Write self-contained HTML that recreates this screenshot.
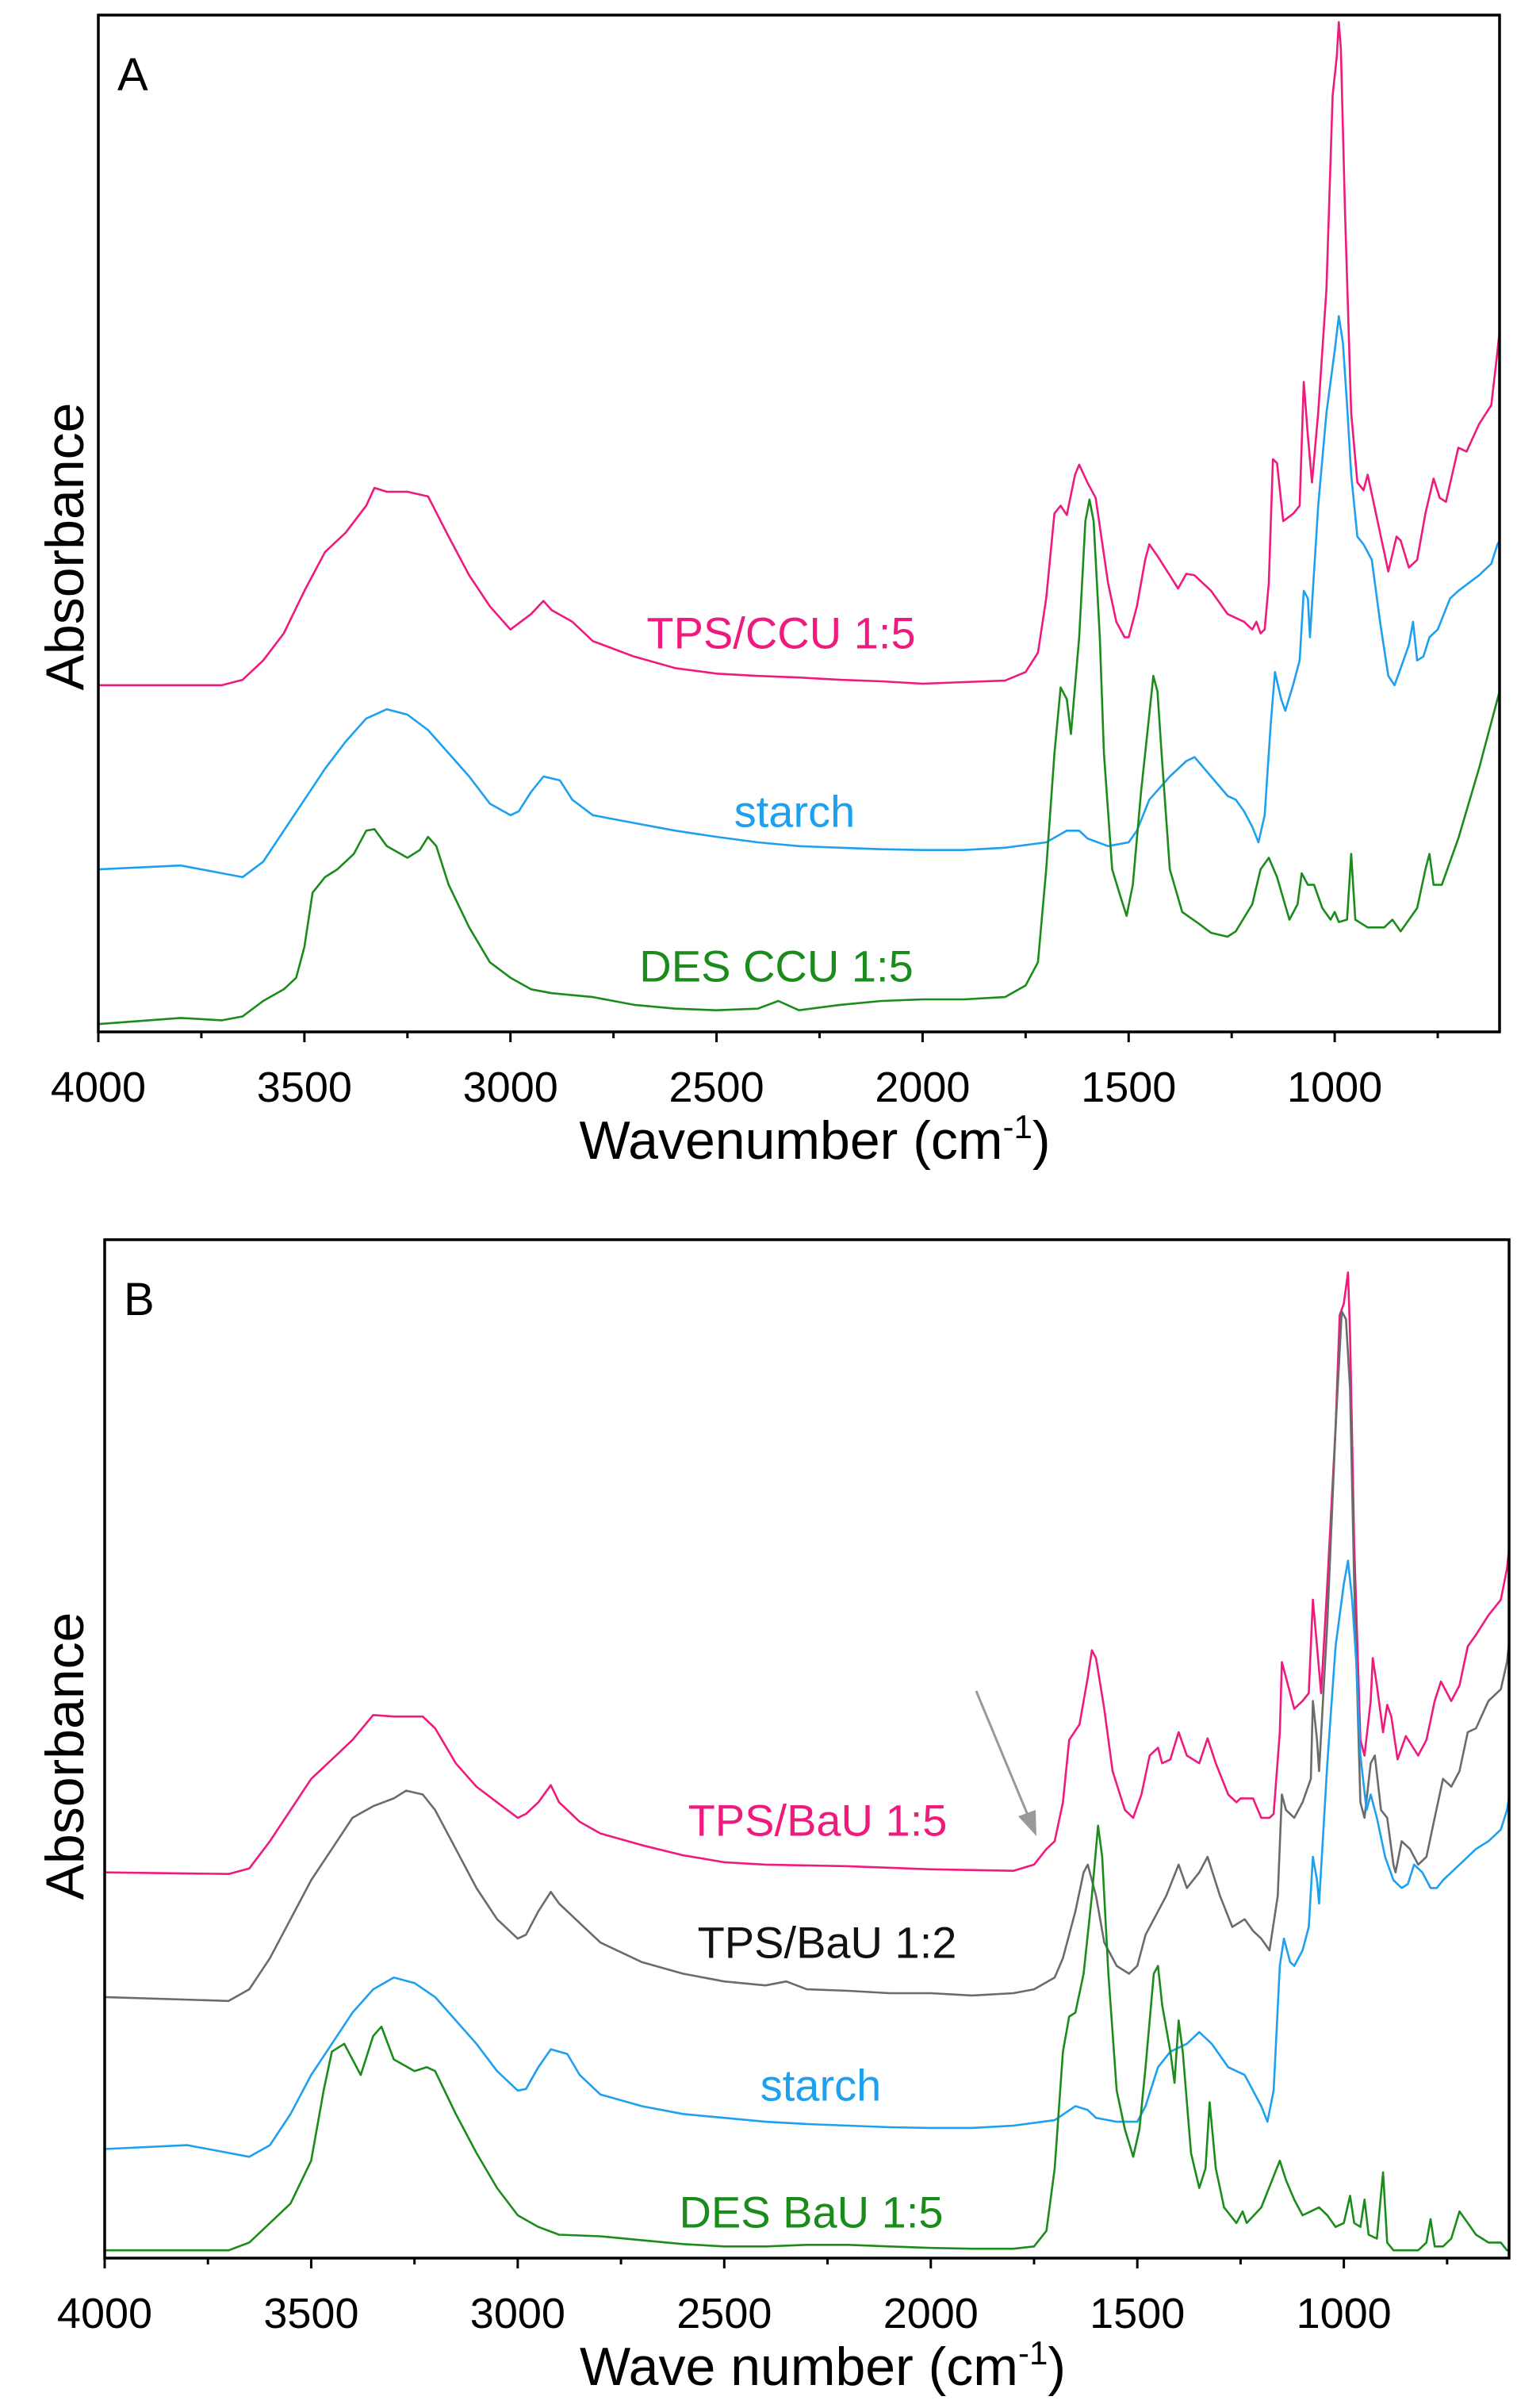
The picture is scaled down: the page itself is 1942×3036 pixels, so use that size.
<!DOCTYPE html>
<html><head><meta charset="utf-8"><style>
html,body{margin:0;padding:0;background:#fff;}
svg{display:block;font-family:"Liberation Sans",Arial,sans-serif;}
</style></head><body>
<svg id="chart" width="1942" height="3036" viewBox="0 0 1942 3036">
<g id="panelA"></g>
<g id="panelB"></g>
</svg>
<script>
// ---- data: [wavenumber (cm-1), absorbance (a.u. x1000, offset)] ----
const tpsCcu=[[4000,488],[3700,488],[3650,495],[3600,520],[3550,555],[3500,610],[3450,660],[3400,685],[3350,720],[3330,743],[3300,738],[3250,738],[3200,732],[3150,680],[3100,630],[3050,590],[3000,560],[2950,580],[2920,597],[2900,585],[2850,570],[2800,545],[2700,525],[2600,510],[2500,503],[2400,500],[2300,498],[2200,495],[2100,493],[2000,490],[1900,492],[1800,494],[1750,505],[1720,530],[1700,600],[1680,710],[1665,720],[1650,708],[1630,760],[1620,773],[1600,750],[1580,730],[1550,620],[1530,570],[1510,550],[1500,550],[1480,590],[1460,650],[1450,670],[1430,655],[1400,630],[1380,613],[1360,632],[1340,630],[1300,610],[1260,580],[1220,570],[1200,560],[1190,570],[1180,555],[1170,560],[1160,620],[1150,780],[1140,775],[1125,700],[1100,710],[1085,720],[1075,880],[1065,810],[1055,750],[1040,840],[1020,1000],[1005,1250],[995,1300],[990,1345],[985,1310],[975,1100],[960,840],[945,750],[930,740],[920,760],[900,710],[880,660],[870,635],[850,680],[840,675],[820,640],[800,650],[780,710],[760,755],[745,730],[730,725],[700,795],[680,790],[650,825],[620,850],[605,920],[600,945]];
const starchA=[[4000,250],[3800,255],[3700,245],[3650,240],[3600,260],[3550,300],[3500,340],[3450,380],[3400,415],[3350,445],[3300,457],[3250,450],[3200,430],[3150,400],[3100,370],[3050,335],[3000,320],[2980,325],[2950,350],[2920,370],[2880,365],[2850,340],[2800,320],[2700,310],[2600,300],[2500,292],[2400,285],[2300,280],[2200,278],[2100,276],[2000,275],[1900,275],[1800,278],[1700,285],[1650,300],[1620,300],[1600,290],[1550,280],[1500,285],[1480,300],[1450,340],[1400,370],[1360,390],[1340,395],[1300,370],[1260,345],[1240,340],[1220,325],[1200,305],[1185,285],[1170,320],[1155,440],[1145,505],[1130,470],[1120,455],[1100,490],[1085,520],[1075,610],[1065,600],[1060,550],[1040,720],[1020,840],[1000,920],[990,965],[980,930],[970,850],[960,760],[945,680],[930,670],[910,650],[890,570],[870,500],[855,488],[840,510],[820,540],[810,570],[800,520],[785,525],[770,550],[750,560],[720,600],[700,610],[650,630],[620,645],[605,670],[600,675]];
const desCcu=[[4000,50],[3800,58],[3700,55],[3650,60],[3600,80],[3550,95],[3520,110],[3500,150],[3480,220],[3450,240],[3420,250],[3380,270],[3350,300],[3330,302],[3300,280],[3250,265],[3220,275],[3200,292],[3180,280],[3150,230],[3100,175],[3050,130],[3000,110],[2950,95],[2900,90],[2800,85],[2700,75],[2600,70],[2500,68],[2400,70],[2350,80],[2300,68],[2200,75],[2100,80],[2000,82],[1900,82],[1800,85],[1750,100],[1720,130],[1700,250],[1680,400],[1665,485],[1650,470],[1640,425],[1620,550],[1605,700],[1595,728],[1585,700],[1570,550],[1560,400],[1540,250],[1520,215],[1505,190],[1490,230],[1470,350],[1450,450],[1440,500],[1430,480],[1420,400],[1400,250],[1370,195],[1330,180],[1300,168],[1260,163],[1240,170],[1200,205],[1180,250],[1160,265],[1140,240],[1110,185],[1090,205],[1080,245],[1065,230],[1050,230],[1030,200],[1010,185],[1000,195],[990,182],[970,185],[960,270],[950,185],[920,175],[880,175],[860,185],[840,170],[800,200],[780,250],[770,270],[760,230],[740,230],[700,290],[650,380],[620,440],[600,480]];
const tpsBau15=[[4000,530],[3700,528],[3650,535],[3600,570],[3550,610],[3500,650],[3450,675],[3400,700],[3350,732],[3300,730],[3230,730],[3200,715],[3150,670],[3100,640],[3050,620],[3000,600],[2980,605],[2950,620],[2920,642],[2900,620],[2870,605],[2850,595],[2800,580],[2700,565],[2600,552],[2500,543],[2400,540],[2200,538],[2000,534],[1800,532],[1750,540],[1720,560],[1700,570],[1680,620],[1665,700],[1640,720],[1620,780],[1610,815],[1600,805],[1580,740],[1560,660],[1530,610],[1510,600],[1490,630],[1470,680],[1450,690],[1440,670],[1420,675],[1400,710],[1380,680],[1350,670],[1330,702],[1310,670],[1280,630],[1260,620],[1250,625],[1220,625],[1200,600],[1180,600],[1170,605],[1155,710],[1150,800],[1140,780],[1120,740],[1100,750],[1085,760],[1075,880],[1065,820],[1055,760],[1040,900],[1020,1100],[1010,1245],[1000,1260],[990,1300],[985,1220],[975,950],[960,700],[950,680],[935,750],[930,805],[920,770],[905,710],[895,745],[885,730],[870,675],[850,705],[820,680],[800,700],[780,750],[765,775],[740,750],[720,770],[700,820],[680,835],[650,860],[620,880],[605,920],[600,945]];
const tpsBau12=[[4000,370],[3700,365],[3650,380],[3600,420],[3550,470],[3500,520],[3450,560],[3400,600],[3350,615],[3300,625],[3270,635],[3230,630],[3200,610],[3150,560],[3100,510],[3050,470],[3000,445],[2980,450],[2950,480],[2920,505],[2900,490],[2870,475],[2850,465],[2800,440],[2700,415],[2600,400],[2500,390],[2400,385],[2350,390],[2300,380],[2200,378],[2100,375],[2000,375],[1900,372],[1800,375],[1750,380],[1700,395],[1680,420],[1650,480],[1630,530],[1620,540],[1600,500],[1580,440],[1550,410],[1520,400],[1500,410],[1480,450],[1450,480],[1430,500],[1400,540],[1380,510],[1350,530],[1330,550],[1300,500],[1270,460],[1240,470],[1220,455],[1200,445],[1180,430],[1160,500],[1150,630],[1140,610],[1120,600],[1100,620],[1080,650],[1075,750],[1065,700],[1060,660],[1040,850],[1020,1100],[1005,1250],[995,1240],[985,1150],[975,900],[960,620],[950,600],[935,670],[925,680],[910,610],[895,600],[880,540],[875,530],[860,570],[840,560],[820,540],[800,550],[780,600],[760,650],[740,640],[720,660],[700,710],[680,715],[650,750],[620,765],[605,800],[600,825]];
const starchB=[[4000,175],[3800,180],[3700,170],[3650,165],[3600,180],[3550,220],[3500,270],[3450,310],[3400,350],[3350,380],[3300,395],[3250,388],[3200,370],[3150,340],[3100,310],[3050,275],[3000,250],[2980,252],[2950,280],[2920,303],[2880,297],[2850,270],[2800,245],[2700,230],[2600,220],[2500,215],[2400,210],[2300,207],[2200,205],[2100,203],[2000,202],[1900,202],[1800,205],[1700,212],[1650,230],[1620,225],[1600,215],[1550,210],[1500,210],[1480,230],[1450,280],[1420,300],[1380,310],[1350,325],[1320,310],[1280,280],[1240,270],[1220,250],[1200,230],[1185,210],[1170,250],[1155,410],[1145,445],[1130,415],[1120,410],[1100,430],[1085,460],[1075,550],[1065,520],[1060,490],[1040,670],[1020,820],[1000,900],[990,930],[980,880],[970,800],[960,680],[945,610],[935,630],[920,600],[900,550],[880,520],[860,510],[845,515],[830,540],[810,530],[790,510],[775,510],[760,520],[740,530],[720,540],[700,550],[680,560],[650,570],[620,585],[605,610],[600,625]];
const desBau=[[4000,45],[3700,45],[3650,55],[3600,80],[3550,105],[3500,160],[3470,250],[3450,300],[3420,310],[3400,290],[3380,270],[3350,320],[3330,332],[3300,290],[3250,275],[3220,280],[3200,275],[3150,220],[3100,170],[3050,125],[3000,90],[2950,75],[2900,65],[2800,63],[2700,58],[2600,53],[2500,50],[2400,50],[2300,52],[2200,52],[2100,50],[2000,48],[1900,47],[1800,47],[1750,50],[1720,70],[1700,150],[1680,300],[1665,345],[1650,350],[1630,400],[1610,500],[1595,590],[1585,550],[1570,400],[1550,250],[1530,200],[1510,165],[1495,200],[1480,280],[1460,400],[1450,410],[1440,360],[1420,300],[1410,260],[1400,340],[1390,300],[1370,170],[1350,125],[1335,150],[1325,235],[1310,150],[1290,100],[1260,80],[1245,95],[1235,80],[1200,100],[1170,140],[1155,160],[1140,135],[1120,110],[1100,90],[1060,100],[1040,90],[1020,75],[1000,80],[985,115],[975,80],[960,75],[950,110],[940,65],[920,60],[905,145],[895,55],[880,45],[850,45],[820,45],[800,55],[790,85],[780,50],[760,50],[740,60],[720,95],[700,80],[680,65],[650,55],[620,55],[605,45],[600,45]];
const majorTicks=[4000,3500,3000,2500,2000,1500,1000];
const minorTicks=[3750,3250,2750,2250,1750,1250,750];
const tickLabels=["4000","3500","3000","2500","2000","1500","1000"];

const NS="http://www.w3.org/2000/svg";
function mk(tag,attrs,parent){const e=document.createElementNS(NS,tag);for(const k in attrs)e.setAttribute(k,attrs[k]);parent.appendChild(e);return e;}

function drawPanel(g,cfg){
  const xS=w=>cfg.left+(cfg.xMax-w)/(cfg.xMax-cfg.xMin)*(cfg.right-cfg.left);
  const yS=v=>cfg.bottom-(v-cfg.yMin)/(cfg.yMax-cfg.yMin)*(cfg.bottom-cfg.top);
  cfg.series.forEach(s=>{
    const d=s.data.map((p,i)=>(i?'L':'M')+xS(p[0]).toFixed(1)+' '+yS(p[1]).toFixed(1)).join('');
    const p=mk('path',{d:d,fill:'none',stroke:s.color,'stroke-width':2.6,'stroke-linejoin':'round'},g);
    
    
    const t=mk('text',{x:s.lx,y:s.ly,fill:s.color,'font-size':56,'text-anchor':'middle','dominant-baseline':'central'},g);
    t.textContent=s.label;
    
    
  });
  const fr=mk('rect',{x:cfg.left,y:cfg.top,width:cfg.right-cfg.left,height:cfg.bottom-cfg.top,fill:'none',stroke:'#000','stroke-width':3.5},g);
  
  
  majorTicks.forEach((w,i)=>{
    const x=xS(w);
    const l=mk('line',{x1:x,x2:x,y1:cfg.bottom,y2:cfg.bottom+13,stroke:'#000','stroke-width':3},g);
    
    
    const t=mk('text',{x:x,y:cfg.bottom+88,'font-size':54,'text-anchor':'middle'},g);
    t.textContent=tickLabels[i];
    
    
  });
  minorTicks.forEach(w=>{
    const x=xS(w);
    const l=mk('line',{x1:x,x2:x,y1:cfg.bottom,y2:cfg.bottom+8,stroke:'#000','stroke-width':3},g);
    
    
  });
  const xt=mk('text',{x:(cfg.left+cfg.right)/2+20,y:cfg.bottom+160,'font-size':68,'text-anchor':'middle'},g);
  xt.innerHTML=cfg.xTitle+' (cm<tspan dy="-26" font-size="42">-1</tspan><tspan dy="26">)</tspan>';
  
  
  const yt=mk('text',{x:0,y:0,'font-size':68,'text-anchor':'middle',transform:'translate(105,'+cfg.yTitleY+') rotate(-90)'},g);
  yt.textContent='Absorbance';
  
  
  const pl=mk('text',{x:cfg.left+24,y:cfg.top+95,'font-size':58},g);
  pl.textContent=cfg.panelLabel;
  
  
}

drawPanel(document.getElementById('panelA'),{left:124,right:1891,top:19,bottom:1301,xMax:4000,xMin:600,yMin:40,yMax:1354,
  xTitle:'Wavenumber',yTitleY:689,panelLabel:'A',
  series:[
    {data:tpsCcu,color:'#f0197d',name:'tps-ccu-1-5-line',label:'TPS/CCU 1:5',lx:985,ly:798},
    {data:starchA,color:'#1ea0f0',name:'starch-a-line',label:'starch',lx:1002,ly:1023},
    {data:desCcu,color:'#1b8c1b',name:'des-ccu-1-5-line',label:'DES CCU 1:5',lx:979,ly:1218}
  ]});
drawPanel(document.getElementById('panelB'),{left:132,right:1903,top:1563,bottom:2847,xMax:4000,xMin:600,yMin:35,yMax:1342,
  xTitle:'Wave number',yTitleY:2214,panelLabel:'B',
  series:[
    {data:tpsBau15,color:'#f0197d',name:'tps-bau-1-5-line',label:'TPS/BaU 1:5',lx:1031,ly:2295},
    {data:tpsBau12,color:'#6b6b6b',name:'tps-bau-1-2-line',label:'TPS/BaU 1:2',lx:1043,ly:2449},
    {data:starchB,color:'#1ea0f0',name:'starch-b-line',label:'starch',lx:1035,ly:2629},
    {data:desBau,color:'#1b8c1b',name:'des-bau-1-5-line',label:'DES BaU 1:5',lx:1023,ly:2789}
  ]});
// label colour fix for gray series text (black in reference)
document.querySelectorAll('#panelB text').forEach(t=>{if(t.textContent==='TPS/BaU 1:2')t.setAttribute('fill','#111');});
// arrow in panel B
const gB=document.getElementById('panelB');
const ar=mk('line',{x1:1231,y1:2132,x2:1300,y2:2298,stroke:'#999','stroke-width':3},gB);


const ah=mk('polygon',{points:'1307,2315 1284,2290 1306,2282',fill:'#999'},gB);


</script>
</body></html>
